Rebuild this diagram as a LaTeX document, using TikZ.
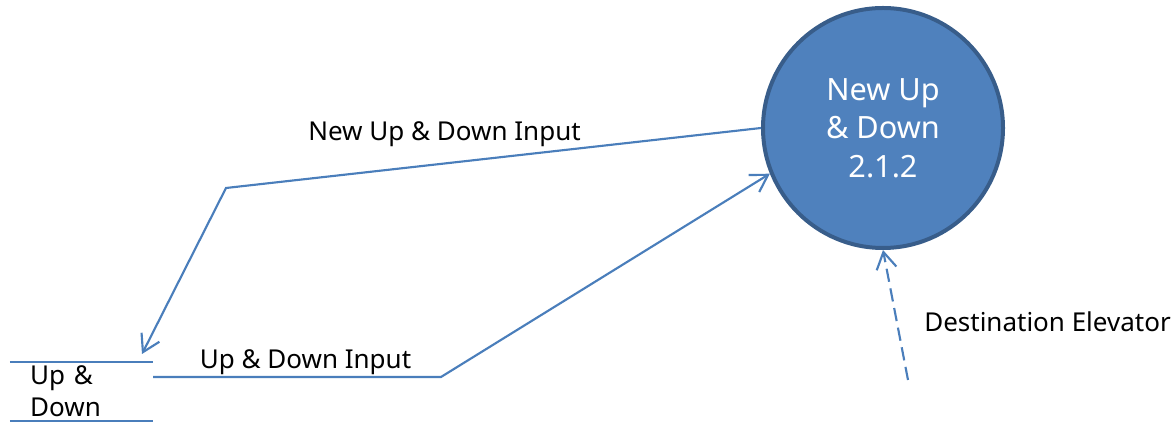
\documentclass[tikz,border=0pt]{standalone}
\usepackage{fontspec}
\setmainfont{Noto Sans}
\definecolor{flowblue}{HTML}{4A7EBB}
\definecolor{procfill}{HTML}{4F81BD}
\definecolor{procedge}{HTML}{385D8A}
\usepackage{tikz}
\usetikzlibrary{arrows.meta, positioning}
\tikzset{
	flowtext/.style={font=\fontsize{19.5}{24}\selectfont, inner sep=0pt}
}
\tikzset{
	flowline/.style={draw=flowblue, line width=1.6pt,
		-{Straight Barb[length=12.5pt, width=15pt]}}
}
\tikzset{
	process/.style={circle, draw=procedge, fill=procfill, line width=3pt,
		minimum size=180pt, inner sep=0pt, align=center, text=white,
		font=\fontsize{23}{29}\selectfont}
}
\tikzset{
	datastore/.style={flowtext, align=left, text width=77pt, inner xsep=15pt,
		inner ysep=0pt, minimum height=44.25pt}
}

\begin{document}
\begin{tikzpicture}[x=0.75pt, y=-0.75pt]
      \useasboundingbox (0,0) rectangle (1175,423);
      \node[process] (newud) at (883,128) {New Up\\\& Down\\2.1.2};
      \node[datastore] (udstore) at (81.5,391.5) {Up \&\\Down};
      % store lines
      \draw[flowblue, line width=1.6pt] (udstore.north west) -- (udstore.north east)
        (udstore.south west) -- (udstore.south east);
      \coordinate (bendtop) at (226,188);
      \coordinate (storein) at (142,354);
      \coordinate (bendlow) at (441,377);
      \coordinate (elev) at (908,380);
      \draw[flowline] (newud.west) -- (bendtop) -- (storein);
      \draw[flowline] ([yshift=10.9pt]udstore.east) -- (bendlow) -- (newud.202);
      \draw[flowline, dash pattern=on 10pt off 5pt] (elev) -- (newud.south);
      \node[flowtext, anchor=base] (newinput) at (444.5,141) {New Up \& Down Input};
      \node[flowtext, anchor=base] (udinput) at (305.5,369) {Up \& Down Input};
      \node[flowtext, anchor=base east] (destel) at (1171,332) {Destination Elevator};
    \end{tikzpicture}
\end{document}
